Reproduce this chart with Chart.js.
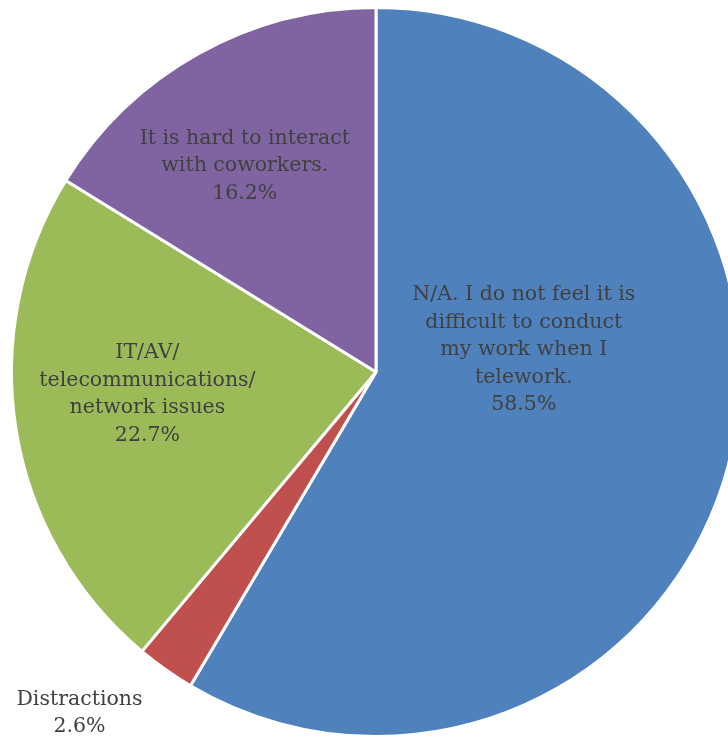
<!DOCTYPE html>
<html>
<head>
<meta charset="utf-8">
<script src="https://cdn.jsdelivr.net/npm/chart.js@4"></script>
<style>
  html, body { margin: 0; padding: 0; background: #fff; overflow: hidden; }
  #wrap { position: relative; width: 752px; height: 744px; }
</style>
</head>
<body>
<div id="wrap"><canvas id="myChart" width="752" height="744"></canvas></div>
<script>
const categories = [
  ["N/A. I do not feel it is", "difficult to conduct", "my work when I", "telework."],
  ["Distractions"],
  ["IT/AV/", "telecommunications/", "network issues"],
  ["It is hard to interact", "with coworkers."]
];
const values = [58.5, 2.6, 22.7, 16.2];
const colors = ["#4F81BD", "#C0504D", "#9BBB59", "#8064A2"];

// where each label sits: [angle from top in degrees, distance as fraction of radius]
const labelPlace = [[81.5, 0.41], [221, 1.24], [264.5, 0.63], [327.5, 0.67]];

const pieLabels = {
  id: 'pieLabels',
  afterDatasetsDraw(chart) {
    const ctx = chart.ctx;
    const meta = chart.getDatasetMeta(0);
    ctx.save();
    ctx.font = '20.5px "DejaVu Serif", serif';
    ctx.fillStyle = '#404040';
    ctx.textAlign = 'center';
    ctx.textBaseline = 'middle';
    meta.data.forEach((arc, i) => {
      const [deg, frac] = labelPlace[i];
      const a = deg * Math.PI / 180;
      const r = arc.outerRadius * frac;
      const cx = arc.x + Math.sin(a) * r;
      const cy = arc.y - Math.cos(a) * r;
      const lines = categories[i].concat([values[i].toFixed(1) + '%']);
      const lh = 27.5;
      const top = cy - (lines.length - 1) * lh / 2;
      lines.forEach((t, k) => ctx.fillText(t, cx, top + k * lh));
    });
    ctx.restore();
  }
};

const ctx = document.getElementById('myChart').getContext('2d');
const myChart = new Chart(ctx, {
  type: 'pie',
  data: {
    labels: categories.map(c => c.join(' ')),
    datasets: [{
      data: values,
      backgroundColor: colors,
      borderColor: '#ffffff',
      borderWidth: 3,
    }],
  },
  options: {
    responsive: false,
    animation: false,
    layout: { padding: 6 },
    plugins: {
      legend: { display: false },
      tooltip: { enabled: false },
    },
  },
  plugins: [pieLabels],
});
</script>
</body>
</html>
